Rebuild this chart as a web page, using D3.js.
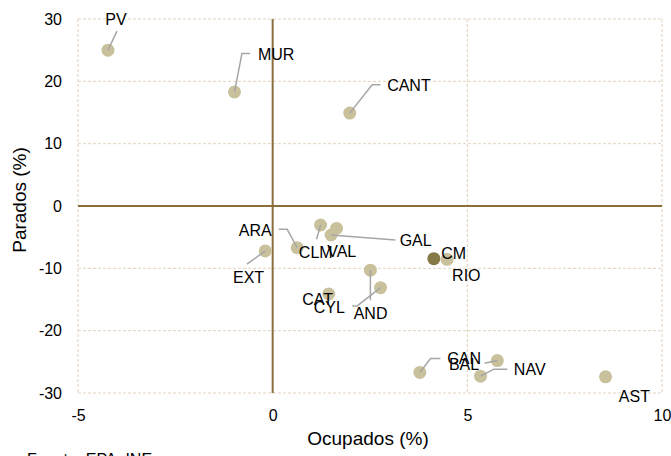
<!DOCTYPE html>
<html>
<head>
<meta charset="utf-8">
<script src="https://cdn.jsdelivr.net/npm/d3@7"></script>
<style>
  body { margin: 0; background: #fff; }
  svg { font-family: "Liberation Sans", Arial, sans-serif; }
</style>
</head>
<body>
<svg width="671" height="456"></svg>
<script>
const regions  = ['PV', 'MUR', 'CANT', 'ARA', 'EXT', 'CLM', 'VAL', 'GAL', 'CM', 'RIO', 'CAT', 'CYL', 'AND', 'CAN', 'BAL', 'NAV', 'AST'];
const ocupados = [-4.23, -0.98, 1.98, 0.63, -0.19, 1.23, 1.64, 1.50, 4.14, 4.48, 1.44, 2.77, 2.51, 3.78, 5.77, 5.34, 8.55];
const parados  = [25.0, 18.3, 14.9, -6.7, -7.2, -3.05, -3.6, -4.65, -8.45, -8.55, -14.1, -13.1, -10.3, -26.7, -24.8, -27.3, -27.4];
const highlighted = ['CM'];
const xTicks = [-5, 0, 5, 10];
const yTicks = [-30, -20, -10, 0, 10, 20, 30];

// label placement relative to each point (px), plus leader line bends
const labelPos = {
  PV:   {dx: -2.7,  dy: -31,   lead: [[9, -19], [0, 0]]},
  MUR:  {dx: 23.4,  dy: -37.4, lead: [[15.7, -38.4], [7.4, -38.4], [0, 0]]},
  CANT: {dx: 37.4,  dy: -27.6, lead: [[30.7, -28.3], [22.4, -28.3], [0, 0]]},
  ARA:  {dx: -58.4, dy: -17,   lead: [[-18.4, -18.4], [-10, -18.4], [0, 0]]},
  EXT:  {dx: -32.3, dy: 26.6,  lead: [[-18.3, 13.3], [0, 0]]},
  CLM:  {dx: -21.7, dy: 27.7,  lead: [[-4, 14.3], [0, 0]]},
  VAL:  {dx: -9.3,  dy: 23.4,  lead: null},
  GAL:  {dx: 68.6,  dy: 5.7,   lead: [[64.3, 5], [0, 0]]},
  CM:   {dx: 7.4,   dy: -5.4,  lead: null},
  RIO:  {dx: 5,     dy: 15.7,  lead: null},
  CAT:  {dx: -26.6, dy: 5.3,   lead: null},
  CYL:  {dx: -66.7, dy: 19.6,  lead: [[-28.3, 18.3], [-23.3, 18.3], [0, 0]]},
  AND:  {dx: -16.7, dy: 42.7,  lead: [[0, 30], [0, 0]]},
  CAN:  {dx: 27.4,  dy: -14,   lead: [[20.7, -14], [10.7, -14], [0, 0]]},
  BAL:  {dx: -48.4, dy: 4.3,   lead: [[-12.7, 2.6], [0, 0]]},
  NAV:  {dx: 33.3,  dy: -6.7,  lead: [[26.7, -7], [13.3, -7], [0, 0]]},
  AST:  {dx: 13.3,  dy: 20,    lead: null}
};

const data = regions.map((r, i) => ({name: r, x: ocupados[i], y: parados[i]}));

const svg = d3.select('svg');
const plot = {left: 78, right: 662, top: 19, bottom: 393};

const x = d3.scaleLinear().domain([-5, 10]).range([plot.left, plot.right]);
const y = d3.scaleLinear().domain([-30, 30]).range([plot.bottom, plot.top]);

const gridColor = '#e3d3bf';
const axisColor = '#8c6d3c';

// dashed grid
svg.append('g')
  .selectAll('line')
  .data(yTicks.filter(d => d !== 0))
  .enter().append('line')
    .attr('x1', plot.left).attr('x2', plot.right)
    .attr('y1', d => y(d)).attr('y2', d => y(d))
    .attr('stroke', gridColor)
    .attr('stroke-dasharray', '3,2');

svg.append('g')
  .selectAll('line')
  .data(xTicks.filter(d => d !== 0))
  .enter().append('line')
    .attr('x1', d => x(d)).attr('x2', d => x(d))
    .attr('y1', plot.top).attr('y2', plot.bottom)
    .attr('stroke', gridColor)
    .attr('stroke-dasharray', '3,2');

// zero axes
svg.append('line')
  .attr('x1', plot.left).attr('x2', plot.right)
  .attr('y1', y(0)).attr('y2', y(0))
  .attr('stroke', axisColor).attr('stroke-width', 2);
svg.append('line')
  .attr('x1', x(0)).attr('x2', x(0))
  .attr('y1', plot.top).attr('y2', plot.bottom)
  .attr('stroke', axisColor).attr('stroke-width', 2);

// tick labels (plain hyphen minus, like the original)
const fmt = d => String(d);
const xAxis = svg.append('g')
  .attr('transform', `translate(0,${plot.bottom})`)
  .call(d3.axisBottom(x).tickValues(xTicks).tickFormat(fmt).tickSize(0).tickPadding(17));
const yAxis = svg.append('g')
  .attr('transform', `translate(${plot.left},0)`)
  .call(d3.axisLeft(y).tickValues(yTicks).tickFormat(fmt).tickSize(0).tickPadding(16));
[xAxis, yAxis].forEach(a => {
  a.select('.domain').remove();
  a.selectAll('text')
    .style('font-size', '16px')
    .style('font-family', '"Liberation Sans", Arial, sans-serif')
    .attr('fill', '#000');
});

// points
svg.append('g')
  .selectAll('circle')
  .data(data)
  .enter().append('circle')
    .attr('cx', d => x(d.x))
    .attr('cy', d => y(d.y))
    .attr('r', 6.5)
    .attr('fill', d => highlighted.includes(d.name) ? '#857a45' : '#c9c19c');

// leader lines
const line = d3.line();
svg.append('g')
  .selectAll('path')
  .data(data.filter(d => labelPos[d.name].lead))
  .enter().append('path')
    .attr('d', d => line(labelPos[d.name].lead.map(p => [x(d.x) + p[0], y(d.y) + p[1]])))
    .attr('fill', 'none')
    .attr('stroke', '#a6a6a6')
    .attr('stroke-width', 1.5);

// labels
svg.append('g')
  .selectAll('text')
  .data(data)
  .enter().append('text')
    .attr('x', d => x(d.x) + labelPos[d.name].dx)
    .attr('y', d => y(d.y) + labelPos[d.name].dy)
    .attr('dy', '0.35em')
    .style('font-size', '16px')
    .text(d => d.name);

// axis titles
svg.append('text')
  .attr('x', 368)
  .attr('y', 445)
  .attr('text-anchor', 'middle')
  .style('font-size', '19px')
  .text('Ocupados (%)');

svg.append('text')
  .attr('transform', 'translate(26,200) rotate(-90)')
  .attr('text-anchor', 'middle')
  .style('font-size', '19px')
  .text('Parados (%)');

svg.append('text')
  .attr('x', 27)
  .attr('y', 465)
  .style('font-size', '16px')
  .text('Fuente: EPA, INE');
</script>
</body>
</html>
